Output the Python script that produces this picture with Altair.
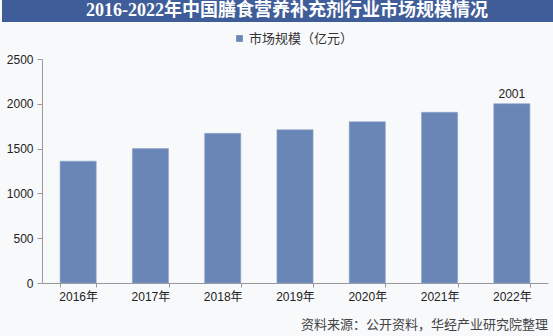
import altair as alt
import pandas as pd

years = ["2016年", "2017年", "2018年", "2019年", "2020年", "2021年", "2022年"]
values = [1360, 1500, 1670, 1710, 1800, 1905, 2001]
label_years = ["2022年"]
label_values = [2001]
series_name = "市场规模（亿元）"
title_text = "2016-2022年中国膳食营养补充剂行业市场规模情况"
source_text = "资料来源：公开资料，华经产业研究院整理"
y_ticks = [0, 500, 1000, 1500, 2000, 2500]

FONT = "Liberation Sans, Noto Sans CJK SC, sans-serif"
BAR = "#6a86b6"

df = pd.DataFrame({"year": years, "value": values, "series": [series_name] * len(years)})
lab = pd.DataFrame({"year": label_years, "value": label_values})

W, H = 506, 224

base = alt.Chart(df)
bars = base.mark_bar(color=BAR, stroke="#8ea4cc", strokeWidth=0.6).encode(
    x=alt.X("year:N", sort=years, title=None,
            scale=alt.Scale(paddingInner=0.5, paddingOuter=0.25),
            axis=alt.Axis(labelAngle=0, labelFont=FONT, labelFontSize=12, labelColor="#222",
                          domainColor="#999", tickColor="#999", tickSize=4,
                          tickBand="extent", labelPadding=4)),
    y=alt.Y("value:Q", title=None,
            scale=alt.Scale(domain=[0, 2500], nice=False),
            axis=alt.Axis(values=y_ticks, format="d", labelFont=FONT, labelFontSize=12,
                          labelColor="#222", domainColor="#999", tickColor="#999",
                          tickSize=5, grid=False, labelPadding=4)),
    color=alt.Color("series:N", scale=alt.Scale(range=[BAR]),
                    legend=alt.Legend(orient="none", legendX=191, legendY=-27, title=None,
                                      symbolType="square", symbolSize=45, labelOffset=3,
                                      labelFont=FONT, labelFontSize=13, labelColor="#333",
                                      symbolStrokeWidth=0)),
)

labels = alt.Chart(lab).mark_text(dy=-10, font=FONT, fontSize=12, color="#222").encode(
    x=alt.X("year:N", sort=years),
    y="value:Q",
    text="value:Q",
)

band = alt.Chart(pd.DataFrame({"t": [title_text]})).mark_rect(color="#3f5d98").encode(
    x=alt.value(-40), x2=alt.value(W + 5), y=alt.value(-59), y2=alt.value(-37)
)
title = alt.Chart(pd.DataFrame({"t": [title_text]})).mark_text(
    font="Liberation Serif, Noto Sans CJK SC, serif", fontSize=18, fontWeight="bold",
    color="white", baseline="middle", align="center"
).encode(text="t:N", x=alt.value(W / 2 - 8), y=alt.value(-48))

source = alt.Chart(pd.DataFrame({"t": [source_text]})).mark_text(
    font="Noto Sans CJK SC, sans-serif", fontSize=13, color="#444",
    align="right", baseline="middle"
).encode(text="t:N", x=alt.value(W), y=alt.value(H + 42))

chart = alt.layer(band, title, bars, labels, source).properties(
    width=W, height=H,
    autosize=alt.AutoSizeParams(type="none"),
    padding={"left": 42, "top": 59, "right": 5, "bottom": 53},
    background="#f8f9fb",
).configure_view(stroke=None)

chart.save("out.html", embed_options={"renderer": "svg", "actions": False})
